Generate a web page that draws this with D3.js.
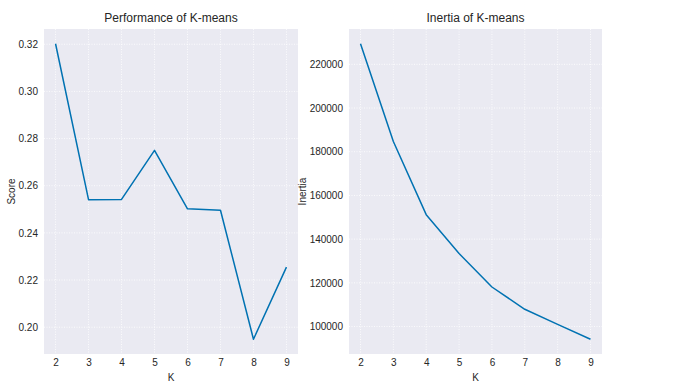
<!DOCTYPE html>
<html>
<head>
<meta charset="utf-8">
<script src="https://cdn.jsdelivr.net/npm/d3@7"></script>
<style>
  body { margin: 0; background: #fff; }
  text { font-family: "Liberation Sans", Arial, sans-serif; fill: #262626; }
  .grid line { stroke: #fff; stroke-dasharray: 1,1.5; stroke-width: 0.8; }
  .axis path, .axis line { display: none; }
</style>
</head>
<body>
<div id="vis"></div>
<script>
// K values and results
var ks = [2, 3, 4, 5, 6, 7, 8, 9];
var scores = [0.3202, 0.2541, 0.2542, 0.2750, 0.2502, 0.2496, 0.1949, 0.2255];
var inertias = [229400, 184700, 151200, 133400, 118100, 107900, 101000, 94200];
var scoreTicks = [0.20, 0.22, 0.24, 0.26, 0.28, 0.30, 0.32];
var inertiaTicks = [100000, 120000, 140000, 160000, 180000, 200000, 220000];

var svg = d3.select("#vis").append("svg")
  .attr("width", 691)
  .attr("height", 390);

function panel(opts) {
  var g = svg.append("g").attr("transform", "translate(" + opts.left + ",29)");
  var w = opts.width, h = 325;

  // matplotlib style 5% margins
  var xPad = (d3.max(ks) - d3.min(ks)) * 0.05;
  var x = d3.scaleLinear()
    .domain([d3.min(ks) - xPad, d3.max(ks) + xPad])
    .range([0, w]);
  var ext = d3.extent(opts.values);
  var yPad = (ext[1] - ext[0]) * 0.05;
  var y = d3.scaleLinear()
    .domain([ext[0] - yPad, ext[1] + yPad])
    .range([h, 0]);

  g.append("rect")
    .attr("width", w)
    .attr("height", h)
    .attr("fill", "#eaeaf2");

  g.append("g")
    .attr("class", "grid")
    .selectAll("line")
    .data(ks)
    .enter().append("line")
    .attr("x1", function(d) { return x(d); })
    .attr("x2", function(d) { return x(d); })
    .attr("y1", 0)
    .attr("y2", h);

  g.append("g")
    .attr("class", "grid")
    .selectAll("line")
    .data(opts.ticks)
    .enter().append("line")
    .attr("y1", function(d) { return y(d); })
    .attr("y2", function(d) { return y(d); })
    .attr("x1", 0)
    .attr("x2", w);

  var xAxis = g.append("g")
    .attr("class", "axis")
    .attr("transform", "translate(0," + h + ")")
    .call(d3.axisBottom(x).tickValues(ks).tickSize(0).tickPadding(5).tickFormat(d3.format("d")));
  xAxis.selectAll("text").style("font-size", "10px");

  var yAxis = g.append("g")
    .attr("class", "axis")
    .call(d3.axisLeft(y).tickValues(opts.ticks).tickSize(0).tickPadding(6).tickFormat(opts.format));
  yAxis.selectAll("text").style("font-size", "10px");

  g.append("path")
    .datum(ks.map(function(k, i) { return [k, opts.values[i]]; }))
    .attr("fill", "none")
    .attr("stroke", "#0072b2")
    .attr("stroke-width", 1.5)
    .attr("stroke-linejoin", "round")
    .attr("d", d3.line()
      .x(function(d) { return x(d[0]); })
      .y(function(d) { return y(d[1]); }));

  g.append("text")
    .attr("x", w / 2)
    .attr("y", -7)
    .attr("text-anchor", "middle")
    .style("font-size", "12px")
    .text(opts.title);

  g.append("text")
    .attr("x", w / 2)
    .attr("y", h + 27)
    .attr("text-anchor", "middle")
    .style("font-size", "10px")
    .text("K");

  g.append("text")
    .attr("transform", "translate(" + opts.labelX + "," + (h / 2) + ") rotate(-90)")
    .attr("text-anchor", "middle")
    .style("font-size", "10px")
    .text(opts.ylabel);
}

panel({
  left: 44, width: 254,
  values: scores, ticks: scoreTicks, format: d3.format(".2f"),
  title: "Performance of K-means", ylabel: "Score", labelX: -29
});

panel({
  left: 349, width: 253,
  values: inertias, ticks: inertiaTicks, format: d3.format("d"),
  title: "Inertia of K-means", ylabel: "Inertia", labelX: -43
});
</script>
</body>
</html>
